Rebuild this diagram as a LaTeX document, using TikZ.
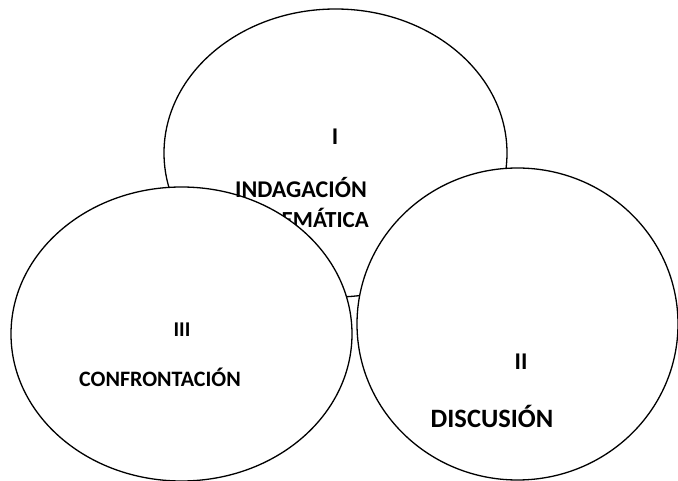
\documentclass[tikz,border=0pt]{standalone}
\usepackage{fontspec}
\setmainfont{Carlito}
\usetikzlibrary{shapes.geometric}

\begin{document}
\begin{tikzpicture}[x=1pt, y=-1pt,
		stage/.style={ellipse, draw, fill=white, line width=1.3pt, inner sep=0pt},
		stagetext/.style={anchor=base, inner sep=0pt, font=\bfseries}]
		\useasboundingbox (0,0) rectangle (678,481); %% page
		% top stage
		\node[stage, minimum width=343pt, minimum height=288pt] (indag) at (335.5,153) {};
		\node[stagetext, anchor=base east, font=\bfseries\fontsize{23}{27}\selectfont] (problem) at (369,228) {PROBLEMÁTICA};
		% left stage
		\node[stage, minimum width=341pt, minimum height=294pt] (confr) at (181.5,334) {};
		\node[stagetext, font=\bfseries\fontsize{24}{28}\selectfont] (one) at (335,145) {I};
		\node[stagetext, font=\bfseries\fontsize{24}{28}\selectfont] (indagtxt) at (301,198) {INDAGACIÓN};
		\node[stagetext, font=\bfseries\fontsize{21}{25}\selectfont] (three) at (182,337) {III};
		\node[stagetext, font=\bfseries\fontsize{22}{26}\selectfont] (confrtxt) at (160,386) {CONFRONTACIÓN};
		% right stage
		\node[stage, minimum width=321pt, minimum height=312pt] (discu) at (517.5,324) {};
		\node[stagetext, font=\bfseries\fontsize{24}{28}\selectfont] (two) at (521,370) {II};
		\node[stagetext, font=\bfseries\fontsize{26.5}{30}\selectfont] (discutxt) at (492,427) {DISCUSIÓN};
	\end{tikzpicture}
\end{document}
